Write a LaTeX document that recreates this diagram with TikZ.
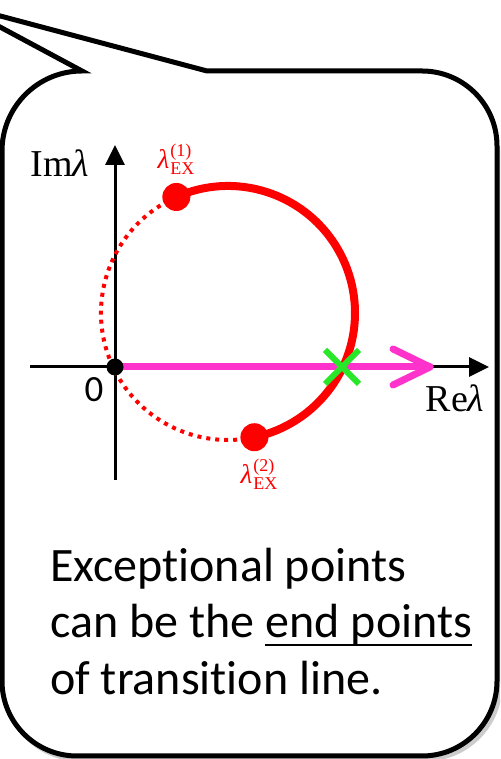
\documentclass[tikz,border=0pt]{standalone}
\usepackage{fontspec}
\setmainfont{Carlito}[Ligatures=NoCommon]
\newfontfamily\serifface{Liberation Serif}
\usetikzlibrary{arrows.meta,calc}
\definecolor{epred}{RGB}{255,0,0}
\definecolor{tline}{RGB}{255,51,204}
\definecolor{xgreen}{RGB}{40,230,40}
\newcommand{\lamex}[1]{{\serifface\fontsize{27}{27}\selectfont\itshape λ}\kern1pt\rlap{\raisebox{12pt}{\serifface\fontsize{18}{18}\selectfont(#1)}}\raisebox{-6pt}{\serifface\fontsize{18}{18}\selectfont EX}}
\newcommand{\axlab}[1]{{\serifface\fontsize{38}{38}\selectfont #1\textit{λ}}}

\tikzset{
  bubble/.style={line width=5pt, fill=white},
  axis/.style={line width=3pt, -{Triangle[length=20pt,width=19pt]}},
  eparc/.style={epred, line width=8pt},
  epdots/.style={epred, line width=4pt, dash pattern=on 4pt off 5pt},
  epdot/.style={circle, fill=epred, minimum size=28pt, inner sep=0pt},
  bigtext/.style={inner sep=0pt, font=\fontsize{48}{56}\selectfont}
}

\begin{document}
\begin{tikzpicture}[x=1pt,y=1pt]
\useasboundingbox (0,0) rectangle (500,759);
\clip (0,0) rectangle (500,759);

% speech bubble with its tail
\draw[gray!40, line width=5pt, fill=gray!40] (5,75) arc[start angle=180,end angle=270,radius=75pt]
  -- (425,0) arc[start angle=270,end angle=360,radius=75pt] -- (500,610) -- (425,610) -- cycle;
\draw[bubble] (-41,754) -- (82,688) arc[start angle=90,end angle=180,radius=80pt]
  -- (2,78) arc[start angle=180,end angle=270,radius=75pt]
  -- (422,3) arc[start angle=270,end angle=360,radius=75pt]
  -- (497,613) arc[start angle=0,end angle=90,radius=75pt]
  -- (207,688) -- cycle;

% axes
\coordinate (O) at (115,392);
\coordinate (ybot) at (115,279);
\coordinate (ytop) at (115,614);
\coordinate (xleft) at (30,392);
\coordinate (xright) at (489,392);
\draw[axis] (ybot) -- (ytop);
\draw[axis] (xleft) -- (xright);
\node (im) at (60,596) {\axlab{Im}};
\node (re) at (455,361) {\axlab{Re}};
\node (zero) at (94,369) {\fontsize{37}{37}\selectfont 0};

% eigenvalue circle
\coordinate (c) at (228,446);
\draw[epdots] (c) ++(114:127) arc[start angle=114,end angle=282,radius=127pt];
\draw[eparc] (c) ++(114:127) arc[start angle=114,end angle=-78,radius=127pt];

% transition line
\coordinate (tip) at (430,392);
\draw[tline, line width=7pt, line cap=round] (O) -- (tip);
\draw[tline, line width=7pt, line cap=round, line join=round] (393,410) -- (tip) -- (393,374);

% points
\node[epdot] (ex1) at ($(c)+(114:127)$) {};
\node[epdot] (ex2) at ($(c)+(-78:127)$) {};
\node[circle, fill=black, minimum size=17pt, inner sep=0pt] (orig) at (O) {};
\coordinate (cross) at (342,392);
\draw[xgreen, line width=6pt] ($(cross)+(-17,17)$) -- ($(cross)+(17,-17)$);
\draw[xgreen, line width=6pt] ($(cross)+(-17,-17)$) -- ($(cross)+(17,17)$);
\node[epred] (lab1) at (176,600) {\lamex{1}};
\node[epred] (lab2) at (259,285) {\lamex{2}};

% caption
\node[bigtext, anchor=base west] (line1) at (50,177) {Exceptional points};
\node[bigtext, anchor=base west] (line2) at (50,121) {can be the};
\node[bigtext, anchor=base west] (ulword) at ([xshift=11pt]line2.base east) {end points};
\node[bigtext, anchor=base west] (line3) at (50,64) {of transition line.};
\draw[line width=2.5pt] ([yshift=-7pt]ulword.base west) -- ([yshift=-7pt]ulword.base east);
\end{tikzpicture}
\end{document}
